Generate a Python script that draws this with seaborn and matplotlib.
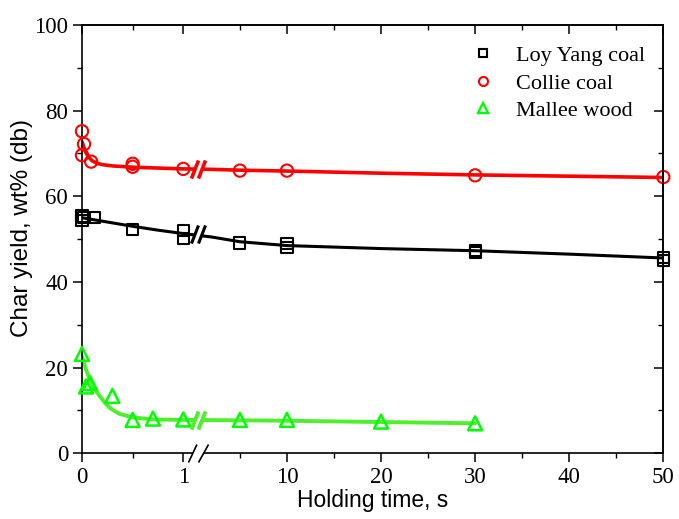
import numpy as np
import matplotlib
matplotlib.use("Agg")
import matplotlib.pyplot as plt
import matplotlib.transforms as mtransforms
from matplotlib.path import Path
from matplotlib.lines import Line2D
import seaborn as sns

# ---------------- data ----------------
loy_x = [0, 0, 0.02, 0.12, 0.5, 1, 1, 5, 10, 10, 30, 30, 50, 50]
loy_y = [55.4, 54.4, 55.0, 55.0, 52.3, 52.1, 50.2, 49.1, 48.9, 48.1, 47.4, 46.9, 45.8, 45.0]

col_x = [0, 0.02, 0, 0.09, 0.5, 0.5, 1, 5, 10, 30, 50]
col_y = [75.2, 72.2, 69.6, 68.1, 67.6, 66.9, 66.4, 66.0, 66.0, 64.9, 64.5]

mal_x = [0, 0.04, 0.08, 0.3, 0.5, 0.7, 1, 5, 10, 20, 30]
mal_y = [23.2, 15.6, 16.4, 13.4, 7.8, 8.1, 7.9, 7.8, 7.8, 7.4, 7.0]

# fitted curves
loy_fit_x = [0, 0.1, 0.2, 0.3, 0.5, 0.75, 1, 2, 5, 10, 20, 30, 40, 50]
loy_fit_y = [55.0, 54.6, 54.2, 53.8, 53.0, 52.1, 51.3, 50.5, 49.4, 48.5, 47.8, 47.3, 46.5, 45.6]

col_fit_x = [0, 0.03, 0.06, 0.1, 0.15, 0.2, 0.3, 0.5, 0.75, 1, 2, 5, 10, 20, 30, 40, 50]
col_fit_y = [72.8, 70.6, 69.3, 68.3, 67.7, 67.4, 67.1, 66.8, 66.6, 66.4, 66.3, 66.1, 65.9, 65.4, 65.0, 64.7, 64.4]

mal_fit_x = [0, 0.04, 0.08, 0.12, 0.18, 0.23, 0.28, 0.37, 0.5, 0.7, 1, 5, 10, 20, 30]
mal_fit_y = [22.6, 19.5, 17.1, 15.2, 13.2, 11.7, 10.5, 9.2, 8.4, 7.9, 7.8, 7.7, 7.6, 7.3, 7.0]

series_names = ["Loy Yang coal", "Collie coal", "Mallee wood"]
x_major = [0, 1, 10, 20, 30, 40, 50]
x_major_labels = ["0", "1", "10", "20", "30", "40", "50"]
x_minor = [0.5, 5, 15, 25, 35, 45]
y_major = [0, 20, 40, 60, 80, 100]
y_minor = [10, 30, 50, 70, 90]

# ---------------- style ----------------
sns.set_theme(style="ticks")
plt.rcParams["font.family"] = ["Liberation Serif", "DejaVu Serif"]
plt.rcParams["axes.edgecolor"] = "black"
plt.rcParams["axes.linewidth"] = 1.2
plt.rcParams["xtick.color"] = "black"
plt.rcParams["ytick.color"] = "black"
plt.rcParams["xtick.labelcolor"] = "black"
plt.rcParams["ytick.labelcolor"] = "black"
plt.rcParams["text.color"] = "black"
plt.rcParams["axes.labelcolor"] = "black"

BLACK = "#000000"
RED = "#FF0000"
GREEN_M = "#00FF00"
GREEN_L = "#4DF02A"

fig = plt.figure(figsize=(6.79, 5.19), dpi=100)
ax = fig.add_axes([82 / 679, 1 - 453.3 / 519, 581.3 / 679, 428.3 / 519])

# broken x axis: 0-1 stretched, then 1-50 with a gap
A_LEFT = 10.765
B_SHIFT = 11.784


def fwd(x):
    x = np.asarray(x, dtype=float)
    return np.where(x <= 1, x * A_LEFT, x + B_SHIFT)


def inv(u):
    u = np.asarray(u, dtype=float)
    return np.where(u <= A_LEFT, u / A_LEFT,
                    np.where(u < 1 + B_SHIFT, 1.0, u - B_SHIFT))


ax.set_xscale("function", functions=(fwd, inv))

# curves
sns.lineplot(x=loy_fit_x, y=loy_fit_y, ax=ax, color=BLACK, linewidth=2.2,
             sort=False, estimator=None, legend=False, zorder=2)
sns.lineplot(x=col_fit_x, y=col_fit_y, ax=ax, color=RED, linewidth=2.6,
             sort=False, estimator=None, legend=False, zorder=2)
sns.lineplot(x=mal_fit_x, y=mal_fit_y, ax=ax, color=GREEN_L, linewidth=2.8,
             sort=False, estimator=None, legend=False, zorder=2)

# markers
sns.scatterplot(x=loy_x, y=loy_y, ax=ax, marker="s", s=64, facecolors="none",
                edgecolor=BLACK, linewidth=1.5, clip_on=False, zorder=4)
sns.scatterplot(x=col_x, y=col_y, ax=ax, marker="o", s=78, facecolors="none",
                edgecolor=RED, linewidth=1.5, clip_on=False, zorder=4)
sns.scatterplot(x=mal_x, y=mal_y, ax=ax, marker="^", s=100, facecolors="none",
                edgecolor=GREEN_M, linewidth=1.8, clip_on=False, zorder=4)

ax.set_xlim(0, 50)
ax.set_ylim(0, 100)
ax.set_xticks(x_major)
ax.set_xticklabels(x_major_labels)
ax.set_xticks(x_minor, minor=True)
ax.set_yticks(y_major)
ax.set_yticks(y_minor, minor=True)
ax.tick_params(which="major", direction="out", length=6.5, width=1.1,
               labelsize=16.5, pad=3.5, colors="black")
ax.tick_params(which="minor", direction="out", length=3.5, width=1.0, colors="black")
for s in ax.spines.values():
    s.set_visible(True)
    s.set_linewidth(1.2)
    s.set_color("black")

# mirrored inward ticks on top and right
ax_t = ax.twiny()
ax_t.set_xscale("function", functions=(fwd, inv))
ax_t.set_xlim(0, 50)
ax_t.set_xticks(x_major)
ax_t.set_xticks(x_minor, minor=True)
ax_t.tick_params(which="major", direction="in", length=6.5, width=1.1,
                 labeltop=False, colors="black")
ax_t.tick_params(which="minor", direction="in", length=3.5, width=1.0, colors="black")
for side in ["bottom", "left", "right"]:
    ax_t.spines[side].set_visible(False)

ax_r = ax.twinx()
ax_r.set_ylim(0, 100)
ax_r.set_yticks(y_major)
ax_r.set_yticks(y_minor, minor=True)
ax_r.tick_params(which="major", direction="in", length=6.5, width=1.1,
                 labelright=False, colors="black")
ax_r.tick_params(which="minor", direction="in", length=3.5, width=1.0, colors="black")
for side in ["bottom", "left", "top"]:
    ax_r.spines[side].set_visible(False)

# labels
ax.set_xlabel("Holding time, s", fontsize=16.5, color="black",
              family=["Liberation Sans", "DejaVu Sans"])
ax.set_ylabel("Char yield, wt% (db)", fontsize=17.5, color="black",
              family=["Liberation Sans", "DejaVu Sans"])
ax.xaxis.set_label_coords(0.5, -0.083)
ax.yaxis.set_label_coords(-0.084, 0.526)

# ---------------- break marks ----------------
brk_off = mtransforms.offset_copy(ax.transData, fig=fig, x=15, y=0, units="dots")

axis_slash = Path([(-10, -9), (-1.6, 9), (0, -9), (10, 9)],
                  [Path.MOVETO, Path.LINETO, Path.MOVETO, Path.LINETO])
axis_gap = Path([(-10, -9), (0, -9), (10, 9), (-1.6, 9), (-10, -9)],
                [Path.MOVETO, Path.LINETO, Path.LINETO, Path.LINETO, Path.CLOSEPOLY])
ax.plot([1], [0], transform=brk_off, marker=axis_gap, ms=14.4, mfc="white",
        mec="none", ls="none", clip_on=False, zorder=6)
ax.plot([1], [0], transform=brk_off, marker=axis_slash, ms=14.4, mfc="none",
        mec="black", mew=1.2, ls="none", clip_on=False, zorder=7)

line_slash = Path([(-7, -9), (0, 9), (0, -9), (7, 9)],
                  [Path.MOVETO, Path.LINETO, Path.MOVETO, Path.LINETO])
line_gap = Path([(-7, -9), (0, -9), (7, 9), (0, 9), (-7, -9)],
                [Path.MOVETO, Path.LINETO, Path.LINETO, Path.LINETO, Path.CLOSEPOLY])
for fx, fy, c, lw in [(loy_fit_x, loy_fit_y, BLACK, 2.2),
                      (col_fit_x, col_fit_y, RED, 2.6),
                      (mal_fit_x, mal_fit_y, GREEN_L, 2.8)]:
    yb = fy[fx.index(1)]
    ax.plot([1], [yb], transform=brk_off, marker=line_gap, ms=13, mfc="white",
            mec="none", ls="none", zorder=5)
    ax.plot([1], [yb], transform=brk_off, marker=line_slash, ms=13, mfc="none",
            mec=c, mew=lw, ls="none", zorder=6)

# ---------------- legend ----------------
handles = [
    Line2D([], [], ls="none", marker="s", ms=6, mfc="none", mec=BLACK, mew=1.5),
    Line2D([], [], ls="none", marker="o", ms=6.5, mfc="none", mec=RED, mew=1.5),
    Line2D([], [], ls="none", marker="^", ms=7, mfc="none", mec=GREEN_M, mew=1.7),
]
leg = ax.legend(handles, series_names, loc="upper left", bbox_to_anchor=(0.671, 0.952),
                frameon=False, fontsize=16, handlelength=1.0, handletextpad=1.0,
                labelspacing=0.31, borderpad=0, borderaxespad=0)
for t in leg.get_texts():
    t.set_color("black")

fig.savefig("out.png", dpi=100)
